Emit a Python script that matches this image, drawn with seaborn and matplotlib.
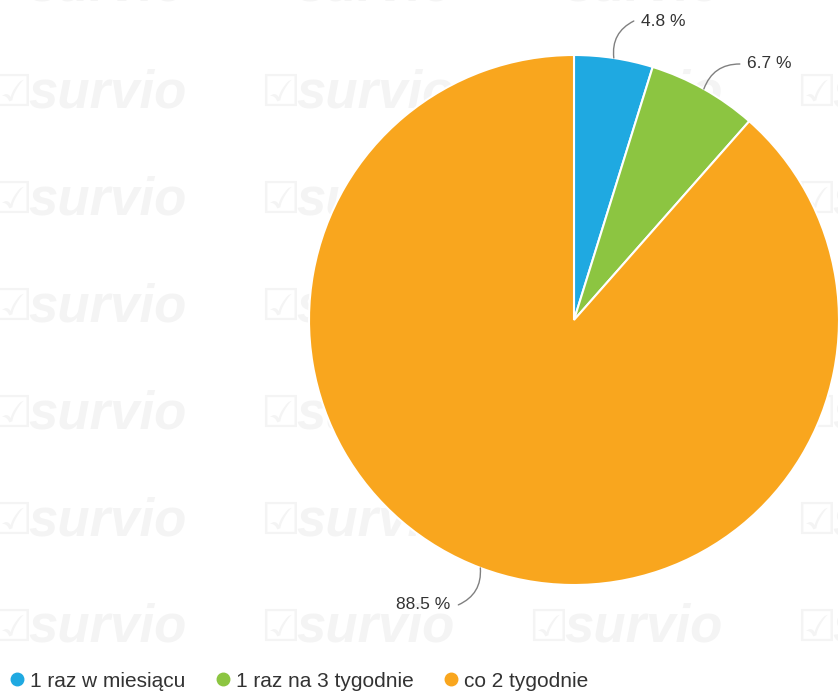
import numpy as np
import matplotlib
matplotlib.use("Agg")
import matplotlib.pyplot as plt
from matplotlib.lines import Line2D
import seaborn as sns

# data
categories = ["1 raz w miesiącu", "1 raz na 3 tygodnie", "co 2 tygodnie"]
shares = [4.8, 6.7, 88.5]
colors = ["#1fa9e1", "#8cc541", "#f9a61e"]

sns.set_theme(style="white")
plt.rcParams["font.family"] = ["Liberation Sans", "DejaVu Sans"]

W, H = 838, 694
fig = plt.figure(figsize=(W / 100, H / 100), dpi=100)
ax = fig.add_axes([0, 0, 1, 1])

# faint watermark grid
for k in range(7):
    for j in range(4):
        wx, wy = -8 + 268 * j, H - (-14 + 107 * k)
        ax.text(wx, wy, "☑", fontsize=32, color="#f4f4f4", va="center", ha="left",
                family="DejaVu Sans", zorder=0)
        ax.text(wx + 36, wy, "survio", fontsize=38, color="#f4f4f4", va="center",
                ha="left", fontweight="bold", fontstyle="italic", zorder=0)

cx, cy, r = 574, H - 320, 265
wedges, _ = ax.pie(shares, colors=colors, startangle=90, counterclock=False,
                   center=(cx, cy), radius=r,
                   wedgeprops=dict(edgecolor="white", linewidth=1.5))

# labels with curved leader lines
offsets = [(20, 37, "left", 0.35), (36, 25, "left", 0.35), (-22, -37, "right", 0.35)]
start = 90.0
for val, (dx, dy, ha, rad) in zip(shares, offsets):
    mid = np.deg2rad(start - val * 3.6 / 2)
    start -= val * 3.6
    px, py = cx + r * np.cos(mid), cy + r * np.sin(mid)
    tx, ty = px + dx, py + dy
    ax.annotate("", xy=(px, py), xytext=(tx, ty),
                arrowprops=dict(arrowstyle="-", color="#808080", lw=1,
                                connectionstyle=f"arc3,rad={rad}",
                                shrinkA=0, shrinkB=0))
    gap = 7 if ha == "left" else -8
    ax.text(tx + gap, ty, f"{val} %", ha=ha, va="center", fontsize=12.5, color="#333333")

ax.set_xlim(0, W)
ax.set_ylim(0, H)
ax.set_aspect("equal")
ax.axis("off")

handles = [Line2D([], [], marker="o", linestyle="", markersize=9, color=c) for c in colors]
fig.legend(handles, categories, loc="lower left", bbox_to_anchor=(-0.014, -0.022), ncol=3,
           frameon=False, fontsize=15, handletextpad=0.12, columnspacing=1.3,
           handlelength=1.0, labelcolor="#333333")

fig.savefig("out.png", dpi=100, facecolor="white")
